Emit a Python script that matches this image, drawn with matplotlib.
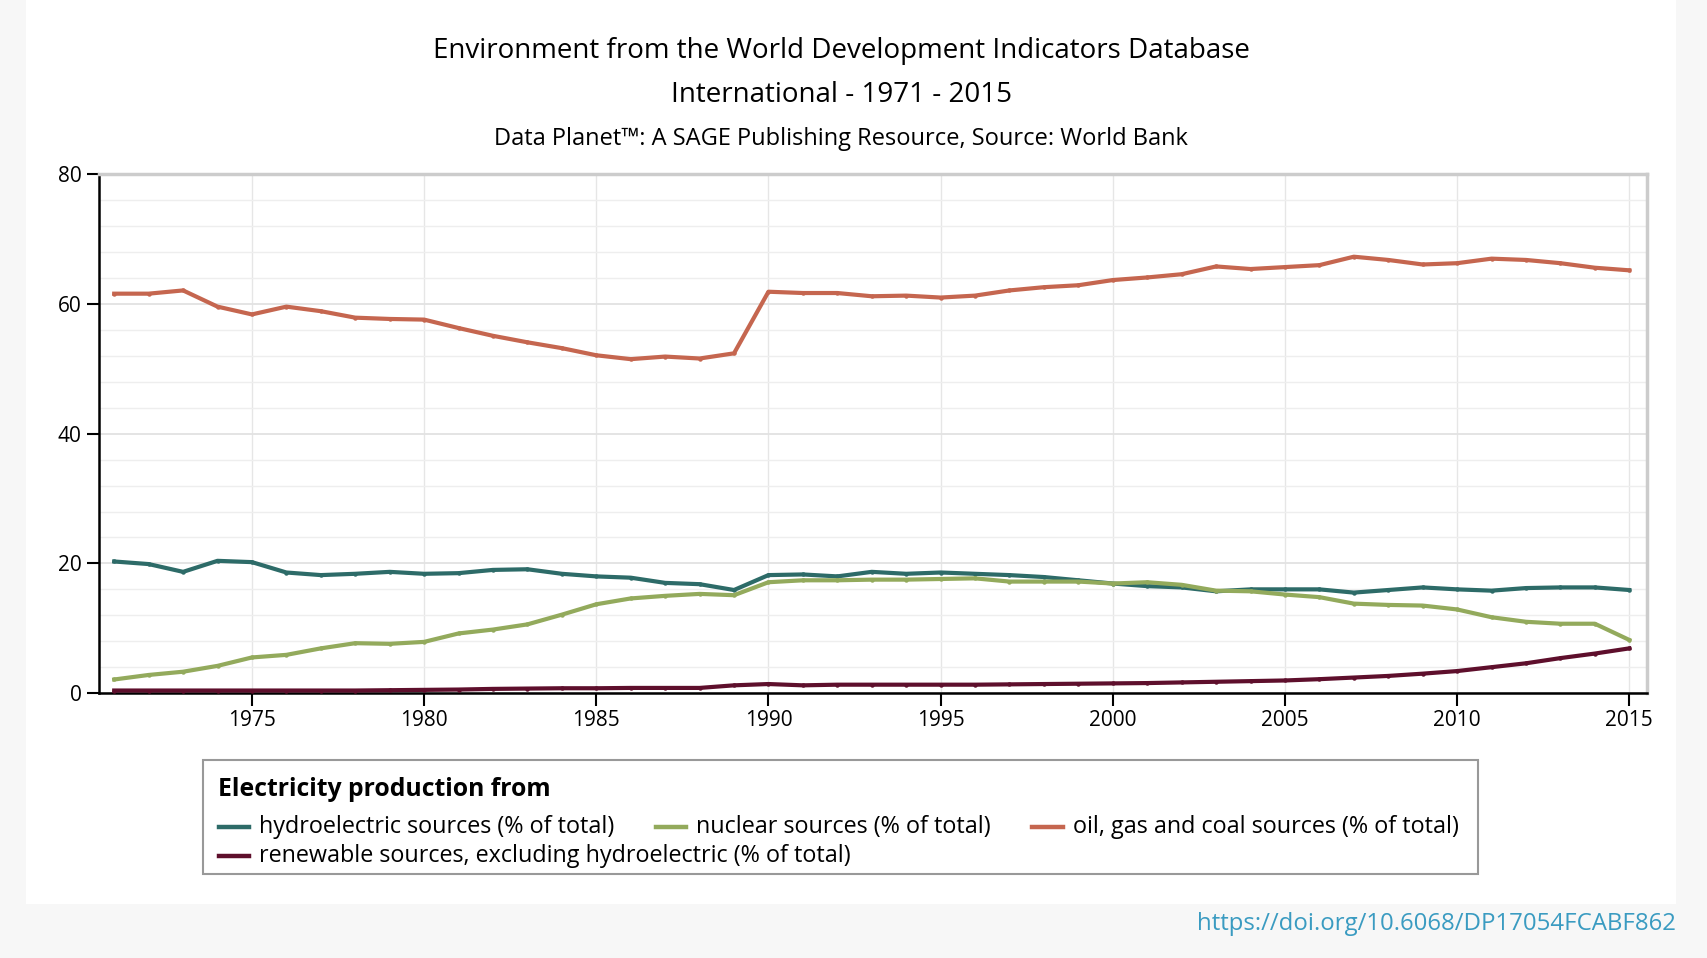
import matplotlib.pyplot as plt
import matplotlib.patches as mpatches
from matplotlib.lines import Line2D

years = list(range(1971, 2016))

hydro = [20.3, 19.9, 18.7, 20.4, 20.2, 18.6, 18.2, 18.4, 18.7, 18.4,
         18.5, 19.0, 19.1, 18.4, 18.0, 17.8, 17.0, 16.8, 15.9, 18.2,
         18.3, 18.0, 18.7, 18.4, 18.6, 18.4, 18.2, 17.9, 17.4, 16.9,
         16.5, 16.3, 15.7, 16.0, 16.0, 16.0, 15.5, 15.9, 16.3, 16.0,
         15.8, 16.2, 16.3, 16.3, 15.9]
nuclear = [2.1, 2.8, 3.3, 4.2, 5.5, 5.9, 6.9, 7.7, 7.6, 7.9,
           9.2, 9.8, 10.6, 12.1, 13.7, 14.6, 15.0, 15.3, 15.1, 17.1,
           17.4, 17.4, 17.5, 17.5, 17.6, 17.7, 17.2, 17.2, 17.2, 16.9,
           17.1, 16.7, 15.8, 15.7, 15.2, 14.8, 13.8, 13.6, 13.5, 12.9,
           11.7, 11.0, 10.7, 10.7, 8.2]
fossil = [61.6, 61.6, 62.1, 59.6, 58.4, 59.6, 58.9, 57.9, 57.7, 57.6,
          56.3, 55.1, 54.1, 53.2, 52.1, 51.5, 51.9, 51.6, 52.4, 61.9,
          61.7, 61.7, 61.2, 61.3, 61.0, 61.3, 62.1, 62.6, 62.9, 63.7,
          64.1, 64.6, 65.8, 65.4, 65.7, 66.0, 67.3, 66.8, 66.1, 66.3,
          67.0, 66.8, 66.3, 65.6, 65.2]
renew = [0.4, 0.4, 0.4, 0.4, 0.4, 0.4, 0.4, 0.4, 0.45, 0.5,
         0.55, 0.65, 0.7, 0.75, 0.75, 0.8, 0.8, 0.8, 1.2, 1.4,
         1.2, 1.3, 1.3, 1.3, 1.3, 1.3, 1.35, 1.4, 1.45, 1.5,
         1.55, 1.65, 1.75, 1.85, 1.95, 2.15, 2.4, 2.65, 3.0, 3.4,
         4.0, 4.6, 5.4, 6.1, 6.9]

series = [
    ("hydroelectric sources (% of total)", hydro, "#2d6b68"),
    ("nuclear sources (% of total)", nuclear, "#93aa5c"),
    ("oil, gas and coal sources (% of total)", fossil, "#c5664f"),
    ("renewable sources, excluding hydroelectric (% of total)", renew, "#5e0f2c"),
]

plt.rcParams['font.family'] = ['Open Sans', 'DejaVu Sans']

fig = plt.figure(figsize=(17.08, 9.58), dpi=100)
fig.patch.set_facecolor("#f7f7f7")
# white panel behind everything
fig.patches.append(mpatches.Rectangle((0.0153, 0.056), 0.966, 0.944, transform=fig.transFigure,
                                      facecolor="white", edgecolor="none", zorder=-10))

fig.text(0.4925, 0.947, "Environment from the World Development Indicators Database",
         ha="center", va="center", fontsize=20)
fig.text(0.4925, 0.901, "International - 1971 - 2015", ha="center", va="center", fontsize=20)
fig.text(0.4925, 0.855, "Data Planet\u2122: A SAGE Publishing Resource, Source: World Bank",
         ha="center", va="center", fontsize=17)
fig.text(0.981, 0.035, "https://doi.org/10.6068/DP17054FCABF862", ha="right", va="center",
         fontsize=17.3, color="#3a9bc1")

ax = fig.add_axes([0.058, 0.2765, 0.906, 0.5415])
ax.set_xlim(1970.56, 2015.5)
ax.set_ylim(0, 80)

for label, vals, color in series:
    ax.plot(years, vals, color=color, lw=3, marker="o", ms=2.2, label=label, zorder=3)

ax.set_yticks([0, 20, 40, 60, 80])
ax.set_yticks(list(range(0, 81, 4)), minor=True)
ax.set_xticks(list(range(1975, 2016, 5)))
ax.grid(which="major", axis="y", color="#e2e2e2", lw=1.3)
ax.grid(which="minor", axis="y", color="#eeeeee", lw=1.0)
ax.grid(which="major", axis="x", color="#e6e6e6", lw=1.0)
ax.set_axisbelow(True)
ax.tick_params(axis="y", which="minor", length=0)
ax.tick_params(axis="both", which="major", length=9, width=1.5, labelsize=15, direction="out")

for side in ("left", "bottom"):
    ax.spines[side].set_color("black")
    ax.spines[side].set_linewidth(1.8)
for side in ("top", "right"):
    ax.spines[side].set_color("#cccccc")
    ax.spines[side].set_linewidth(2.5)

# legend laid out by hand: flows left to right and wraps like the original
W, H = 1568.0, 879.0
fig.patches.append(mpatches.Rectangle((186 / W, 1 - 802 / H), (1357 - 186) / W, (802 - 697) / H,
                                      transform=fig.transFigure, facecolor="white",
                                      edgecolor="#999999", lw=1.5, zorder=1))
fig.text(200 / W, 1 - 724 / H, "Electricity production from", fontsize=17.8, weight="bold",
         ha="left", va="center")

renderer = fig.canvas.get_renderer()
handle_len, text_gap, item_gap = 28 / W, 9 / W, 38 / W
rows = [(1 - 759 / H, [0, 1, 2]), (1 - 785 / H, [3])]
for y, idx in rows:
    x = 201 / W
    for i in idx:
        label, _, color = series[i]
        fig.lines.append(Line2D([x, x + handle_len], [y, y], color=color, lw=3.2,
                                transform=fig.transFigure))
        t = fig.text(x + handle_len + text_gap, y, label, fontsize=16.8, ha="left", va="center")
        bb = t.get_window_extent(renderer)
        x = bb.x1 / fig.bbox.width + item_gap

fig.savefig("out.png", dpi=100, facecolor=fig.get_facecolor())
